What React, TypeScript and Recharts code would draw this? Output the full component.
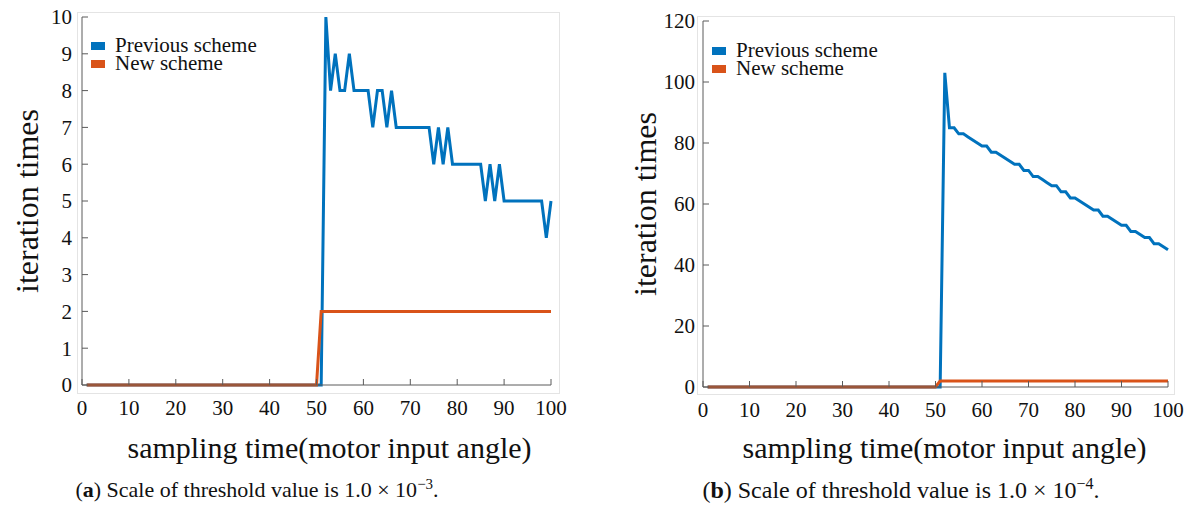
import { Legend, Line, LineChart, XAxis, YAxis } from "recharts";

const BLUE = "#0072BD";
const ORANGE = "#D95319";
const AXIS = "#5a5a5a";
const INK = "#111";
const FONT = "'Liberation Serif', 'Times New Roman', serif";

const SAMPLE_TIME = Array.from({ length: 100 }, (_, i) => i + 1);
const X_TICKS = [0, 10, 20, 30, 40, 50, 60, 70, 80, 90, 100];
const X_TITLE = "sampling time(motor input angle)";
const Y_TITLE = "iteration times";
const SERIES = ["Previous scheme", "New scheme"];

// (a) threshold 1e-3
const A_Y_TICKS = [0, 1, 2, 3, 4, 5, 6, 7, 8, 9, 10];
const A_PREV = [
  0, 0, 0, 0, 0, 0, 0, 0, 0, 0,
  0, 0, 0, 0, 0, 0, 0, 0, 0, 0,
  0, 0, 0, 0, 0, 0, 0, 0, 0, 0,
  0, 0, 0, 0, 0, 0, 0, 0, 0, 0,
  0, 0, 0, 0, 0, 0, 0, 0, 0, 0,
  0, 10, 8, 9, 8, 8, 9, 8, 8, 8,
  8, 7, 8, 8, 7, 8, 7, 7, 7, 7,
  7, 7, 7, 7, 6, 7, 6, 7, 6, 6,
  6, 6, 6, 6, 6, 5, 6, 5, 6, 5,
  5, 5, 5, 5, 5, 5, 5, 5, 4, 5,
];
const A_NEW = [
  0, 0, 0, 0, 0, 0, 0, 0, 0, 0,
  0, 0, 0, 0, 0, 0, 0, 0, 0, 0,
  0, 0, 0, 0, 0, 0, 0, 0, 0, 0,
  0, 0, 0, 0, 0, 0, 0, 0, 0, 0,
  0, 0, 0, 0, 0, 0, 0, 0, 0, 0,
  2, 2, 2, 2, 2, 2, 2, 2, 2, 2,
  2, 2, 2, 2, 2, 2, 2, 2, 2, 2,
  2, 2, 2, 2, 2, 2, 2, 2, 2, 2,
  2, 2, 2, 2, 2, 2, 2, 2, 2, 2,
  2, 2, 2, 2, 2, 2, 2, 2, 2, 2,
];

// (b) threshold 1e-4
const B_Y_TICKS = [0, 20, 40, 60, 80, 100, 120];
const B_PREV = [
  0, 0, 0, 0, 0, 0, 0, 0, 0, 0,
  0, 0, 0, 0, 0, 0, 0, 0, 0, 0,
  0, 0, 0, 0, 0, 0, 0, 0, 0, 0,
  0, 0, 0, 0, 0, 0, 0, 0, 0, 0,
  0, 0, 0, 0, 0, 0, 0, 0, 0, 0,
  0, 103, 85, 85, 83, 83, 82, 81, 80, 79,
  79, 77, 77, 76, 75, 74, 73, 73, 71, 71,
  69, 69, 68, 67, 66, 66, 64, 64, 62, 62,
  61, 60, 59, 58, 58, 56, 56, 55, 54, 53,
  53, 51, 51, 50, 49, 49, 47, 47, 46, 45,
];
const B_NEW = A_NEW;

type Geo = {
  left: number; top: number; right: number; yw: number; ym: number; xh: number;
  ylab: number; xlab: number; legLeft: number; legTop: number;
  box: [number, number, number, number]; capCenter: number; capSize: number;
};

function LegendBox({ payload }: any) {
  const items = [...(payload || [])].sort((a: any, b: any) => SERIES.indexOf(a.value) - SERIES.indexOf(b.value));
  return (
    <div style={{ fontSize: 21, lineHeight: "18px", color: INK, fontFamily: FONT }}>
      {items.map((p: any) => (
        <div key={p.value} style={{ display: "flex", alignItems: "center", whiteSpace: "nowrap" }}>
          <span style={{ display: "inline-block", width: 14, height: 8, background: p.color, marginRight: 10, marginTop: 2 }} />
          {p.value}
        </div>
      ))}
    </div>
  );
}

function YTitle({ viewBox, dx }: any) {
  const cx = viewBox.x + dx;
  const cy = viewBox.y + viewBox.height / 2;
  return (
    <text x={cx} y={cy} transform={`rotate(-90, ${cx}, ${cy})`} textAnchor="middle"
      dominantBaseline="central" fontSize={32} fill={INK} fontFamily={FONT}>
      {Y_TITLE}
    </text>
  );
}

function XTitle({ viewBox, dx }: any) {
  const cx = viewBox.x + viewBox.width / 2 + dx;
  const y = viewBox.y + viewBox.height - 12;
  return (
    <text x={cx} y={y} textAnchor="middle" fontSize={30} fill={INK} fontFamily={FONT}>
      {X_TITLE}
    </text>
  );
}

function Panel({ prev, next, yMax, yTicks, geo, tag, exp }: {
  prev: number[]; next: number[]; yMax: number; yTicks: number[]; geo: Geo; tag: string; exp: string;
}) {
  const data = SAMPLE_TIME.map((t, i) => ({ t, prev: prev[i], next: next[i] }));
  const axisProps = { axisLine: { stroke: AXIS }, tickLine: { stroke: AXIS }, tickSize: -6 };
  const tickStyle = { fontSize: 21, fill: INK, fontFamily: FONT };
  const [bx, by, bw, bh] = geo.box;
  return (
    <div style={{ position: "absolute", left: geo.left, top: 0, width: 580, height: 508 }}>
      <div style={{ position: "absolute", left: bx, top: by, width: bw, height: bh, border: "1px solid #e4e4e4" }} />
      <LineChart width={580} height={470} data={data}
        margin={{ top: geo.top, right: geo.right, left: 0, bottom: 0 }}>
        <XAxis dataKey="t" type="number" domain={[0, 100]} ticks={X_TICKS} interval={0}
          height={geo.xh} tickMargin={21} tick={tickStyle} {...axisProps}
          label={{ position: "insideBottom", content: (p: any) => <XTitle viewBox={p.viewBox} dx={geo.xlab} /> }} />
        <XAxis xAxisId="top" orientation="top" dataKey="t" type="number" domain={[0, 100]}
          ticks={X_TICKS} interval={0} height={0} tickFormatter={() => ""} {...axisProps} />
        <YAxis type="number" domain={[0, yMax]} ticks={yTicks} interval={0} width={geo.yw}
          tickMargin={geo.ym} tick={tickStyle} {...axisProps}
          label={{ position: "insideLeft", content: (p: any) => <YTitle viewBox={p.viewBox} dx={geo.ylab} /> }} />
        <YAxis yAxisId="right" orientation="right" type="number" domain={[0, yMax]} ticks={yTicks}
          interval={0} width={0} tickFormatter={() => ""} {...axisProps} />
        <Legend layout="vertical" align="center" verticalAlign="middle" content={<LegendBox />}
          wrapperStyle={{ left: geo.legLeft, top: geo.legTop, width: "auto" }} />
        <Line dataKey="prev" name={SERIES[0]} stroke={BLUE} strokeWidth={3} dot={false}
          isAnimationActive={false} />
        <Line dataKey="next" name={SERIES[1]} xAxisId="top" yAxisId="right" stroke={ORANGE}
          strokeWidth={3} dot={false} isAnimationActive={false} />
      </LineChart>
      <div style={{ position: "absolute", left: geo.capCenter, top: 477, transform: "translateX(-50%)",
        fontSize: geo.capSize, lineHeight: "26px", color: INK, whiteSpace: "nowrap", fontFamily: FONT }}>
        (<b>{tag}</b>) Scale of threshold value is 1.0 × 10
        <sup style={{ fontSize: Math.round(geo.capSize * 0.68), lineHeight: 0 }}>−{exp}</sup>.
      </div>
    </div>
  );
}

const GEO_A: Geo = { left: 0, top: 17, right: 29, yw: 82, ym: 16, xh: 85, ylab: 27, xlab: 13, legLeft: 91, legTop: 36, box: [77, 12, 481, 380], capCenter: 257, capSize: 22 };
const GEO_B: Geo = { left: 610, top: 21, right: 22, yw: 93, ym: 14, xh: 83, ylab: 35, xlab: 9, legLeft: 102, legTop: 41, box: [87, 16, 476, 377], capCenter: 291, capSize: 24 };

export default function App() {
  return (
    <div style={{ position: "absolute", left: 0, top: 0, width: 1194, height: 508, background: "#fff", fontFamily: FONT }}>
      <Panel prev={A_PREV} next={A_NEW} yMax={10} yTicks={A_Y_TICKS} geo={GEO_A} tag="a" exp="3" />
      <Panel prev={B_PREV} next={B_NEW} yMax={120} yTicks={B_Y_TICKS} geo={GEO_B} tag="b" exp="4" />
    </div>
  );
}
